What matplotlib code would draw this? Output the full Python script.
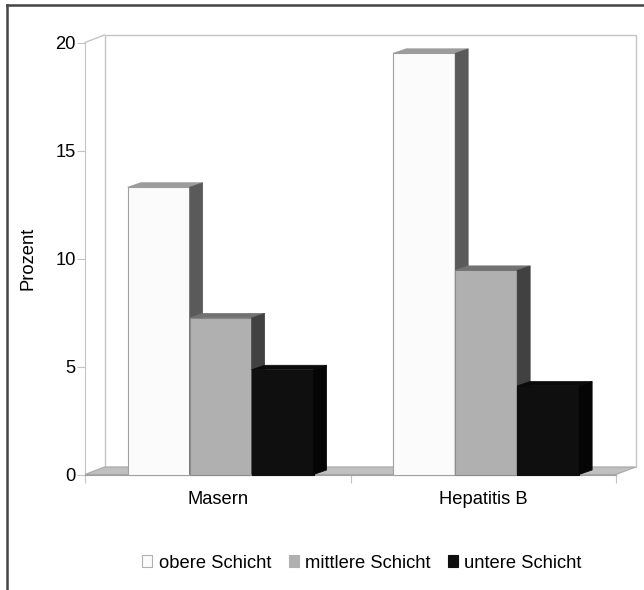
#!/usr/bin/env python3
"""Pseudo-3D grouped bar chart: Impfquote nach sozialer Schicht."""
import matplotlib
matplotlib.use("Agg")
import matplotlib.pyplot as plt
from matplotlib.patches import Polygon, Patch
from matplotlib.lines import Line2D

plt.rcParams['font.family'] = ['Liberation Sans', 'DejaVu Sans']

categories = ["Masern", "Hepatitis B"]
series = ["obere Schicht", "mittlere Schicht", "untere Schicht"]
obere = [13.3, 19.5]
mittlere = [7.25, 9.45]
untere = [4.85, 4.1]
yticks = [0, 5, 10, 15, 20]

# face, top, side, edge
styles = [
    ("#fbfbfb", "#9c9c9c", "#5a5a5a", "#a0a0a0"),
    ("#b0b0b0", "#727272", "#414141", "#8c8c8c"),
    ("#0f0f0f", "#0b0b0b", "#050505", "#0f0f0f"),
]

W, H, DPI = 644, 590, 100
FS = 13.2

fig = plt.figure(figsize=(W / DPI, H / DPI), dpi=DPI)
ax = fig.add_axes([85 / W, (H - 474.5) / H, 531 / W, 432 / H])
ax.set_xlim(-0.5, 1.5)
ax.set_ylim(0, 20)

# depth offsets in data units
px_x = 531 / 2.0
px_y = 432 / 20.0
wdx, wdy = 19.5 / px_x, 7.5 / px_y
bdx, bdy = 13 / px_x, 4.5 / px_y

wall = "#c4c4c4"
# back wall
ax.add_patch(Polygon([(-0.5 + wdx, wdy), (-0.5 + wdx, 20 + wdy), (1.5 + wdx, 20 + wdy),
                      (1.5 + wdx, wdy)], closed=True, fill=False, edgecolor=wall,
                     lw=1.0, clip_on=False, zorder=1))
# left wall top edge
ax.plot([-0.5, -0.5 + wdx], [20, 20 + wdy], color=wall, lw=1.0, clip_on=False, zorder=1)
# floor
ax.add_patch(Polygon([(-0.5, 0), (-0.5 + wdx, wdy), (1.5 + wdx, wdy), (1.5, 0)],
                     closed=True, facecolor="#c0c0c0", edgecolor="#a8a8a8", lw=0.8,
                     clip_on=False, zorder=1.5))

bw = 0.2335
offset = 0.011
values = [obere, mittlere, untere]
for ci in range(len(categories)):
    start = ci - 1.5 * bw + offset
    for si, vals in enumerate(values):
        face, top, side, edge = styles[si]
        x0 = start + si * bw
        x1 = x0 + bw
        v = vals[ci]
        z = 3 + si
        ax.bar(x0, v, width=bw, align="edge", color=face, edgecolor=edge, lw=0.8,
               zorder=z, clip_on=False)
        ax.add_patch(Polygon([(x0, v), (x0 + bdx, v + bdy), (x1 + bdx, v + bdy), (x1, v)],
                             closed=True, facecolor=top, edgecolor=top, lw=0.5,
                             zorder=z, clip_on=False))
        ax.add_patch(Polygon([(x1, 0), (x1, v), (x1 + bdx, v + bdy), (x1 + bdx, bdy)],
                             closed=True, facecolor=side, edgecolor=side, lw=0.5,
                             zorder=z, clip_on=False))

for s in ("top", "right"):
    ax.spines[s].set_visible(False)
ax.spines["left"].set_color(wall)
ax.spines["bottom"].set_color("#a0a0a0")
ax.spines["left"].set_zorder(1)

ax.set_yticks(yticks)
ax.set_yticklabels([str(t) for t in yticks], fontsize=FS)
ax.tick_params(axis="y", length=5.8, width=0.8, color=wall, pad=1)

ax.set_xticks([-0.5, 0.5, 1.5])
ax.set_xticklabels([])
ax.tick_params(axis="x", which="major", length=5.8, width=0.8, color=wall)
ax.set_xticks([0, 1], minor=True)
ax.set_xticklabels(categories, minor=True, fontsize=FS)
ax.tick_params(axis="x", which="minor", length=0, pad=12)

ax.set_ylabel("Prozent", fontsize=FS)
ax.yaxis.set_label_coords(-(85 - 37) / 531, 0.5 + (474.5 - 258 - 216) / 432)

handles = [Patch(facecolor=st[0], edgecolor=("#b0b0b0" if i == 0 else st[0]), lw=0.8)
           for i, st in enumerate(styles)]
fig.legend(handles, series, loc="center", bbox_to_anchor=(362 / W, 1 - 563 / H),
           ncol=3, frameon=False, fontsize=FS, handlelength=0.55, handleheight=0.55,
           handletextpad=0.35, columnspacing=0.95)

# outer frame (cut at right and bottom)
fig.add_artist(Line2D([7 / W, 7 / W], [0, 1 - 5 / H], color="#444444", lw=1.8))
fig.add_artist(Line2D([7 / W, 1], [1 - 5 / H, 1 - 5 / H], color="#444444", lw=1.8))

fig.savefig("out.png", dpi=DPI)
